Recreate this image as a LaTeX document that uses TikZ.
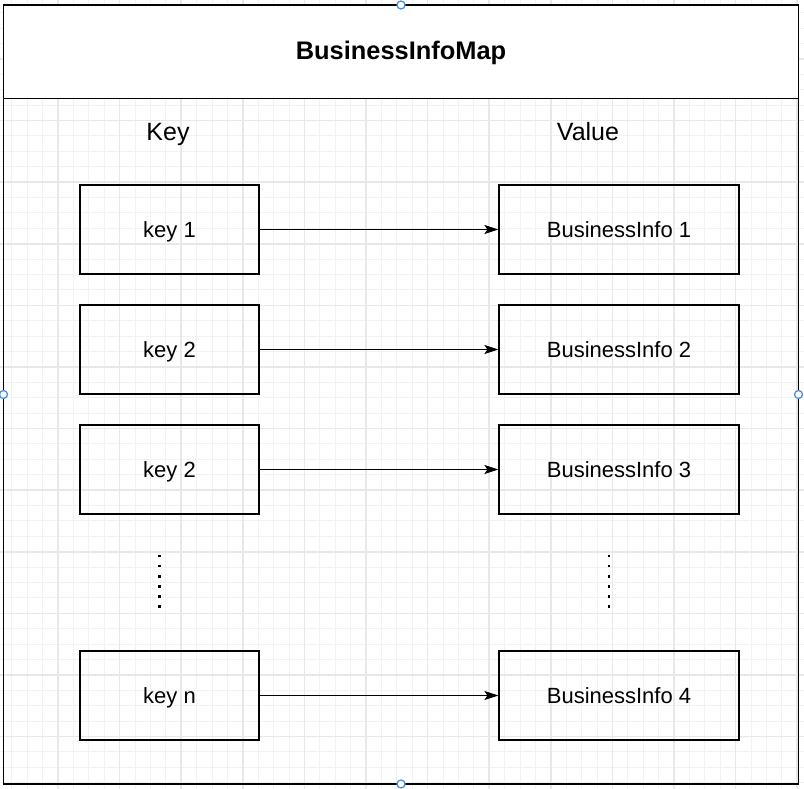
\documentclass[tikz,border=0pt]{standalone}
\usepackage{fontspec}
\setmainfont{Liberation Sans}
\usetikzlibrary{arrows.meta}
\definecolor{handleblue}{RGB}{74,144,226}

\begin{document}
\begin{tikzpicture}[x=1pt,y=-1pt,
  minorline/.style={draw=black!5,line width=1pt},
  majorline/.style={draw=black!9,line width=1.6pt},
  frame/.style={line width=1.5pt},
  keybox/.style={draw,line width=1.2pt,minimum width=179pt,minimum height=89pt,
    inner sep=0pt,text height=15.75pt,text depth=0pt,
    font=\fontsize{22}{26}\selectfont},
  valbox/.style={keybox,minimum width=240pt},
  colhead/.style={anchor=base,font=\fontsize{25}{30}\selectfont},
  link/.style={line width=1pt,-{Stealth[length=14pt,width=9pt,inset=3pt]}},
  more/.style={line width=2.6pt,dash pattern=on 2.6pt off 7.5pt},
  handle/.style={draw=handleblue,fill=white,line width=1.3pt}]
  \useasboundingbox (0,0) rectangle (804,789);

  % background grid, minor and major lines
  \foreach \i in {0,...,53} {
    \draw[minorline] ({-3.6+15.4*\i},0) -- ({-3.6+15.4*\i},789);
    \draw[minorline] (0,{-2.7+15.4*\i}) -- (804,{-2.7+15.4*\i});
  }
  \foreach \i in {0,...,13} {
    \draw[majorline] ({-3.6+61.6*\i},0) -- ({-3.6+61.6*\i},789);
    \draw[majorline] (0,{-2.7+61.6*\i}) -- (804,{-2.7+61.6*\i});
  }

  % container with its title bar
  \draw[frame,fill=white] (3.5,5) rectangle (798.5,98.7);
  \draw[frame] (3.5,98.7) rectangle (798.5,784);
  \node[text height=18.2pt,text depth=0pt,font=\bfseries\fontsize{25.4}{30}\selectfont]
    (title) at (401,50) {BusinessInfoMap};

  \node[colhead] (keyhead) at (168,140.7) {Key};
  \node[colhead] (valhead) at (588,140.7) {Value};

  \node[keybox] (k1) at (169.5,229.5) {key 1};
  \node[keybox] (k2) at (169.5,349.5) {key 2};
  \node[keybox] (k3) at (169.5,469.5) {key 2};
  \node[keybox] (kn) at (169.5,695.5) {key n};

  \node[valbox] (v1) at (619,229.5) {BusinessInfo 1};
  \node[valbox] (v2) at (619,349.5) {BusinessInfo 2};
  \node[valbox] (v3) at (619,469.5) {BusinessInfo 3};
  \node[valbox] (vn) at (619,695.5) {BusinessInfo 4};

  \draw[link] (k1) -- (v1);
  \draw[link] (k2) -- (v2);
  \draw[link] (k3) -- (v3);
  \draw[link] (kn) -- (vn);

  % elided rows
  \draw[more] (159.3,554.7) -- (159.3,608);
  \draw[more] (609,554.7) -- (609,608);

  % selection handles
  \draw[handle] (401,5) circle (4);
  \draw[handle] (401,784) circle (4);
  \draw[handle] (3.5,394.5) circle (4);
  \draw[handle] (798.5,394.5) circle (4);
\end{tikzpicture}
\end{document}
